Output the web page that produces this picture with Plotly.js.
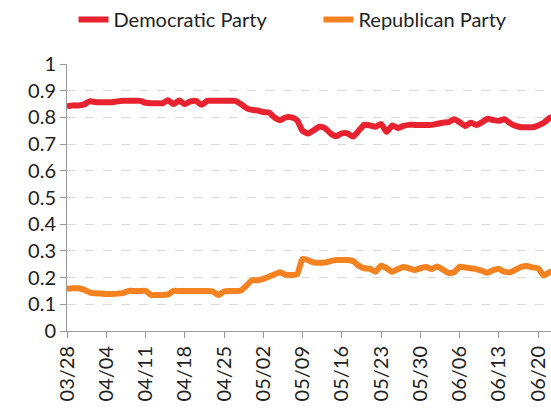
<!DOCTYPE html>
<html>
<head>
<meta charset="utf-8">
<script src="https://cdn.plot.ly/plotly-3.0.1.min.js"></script>
<style>html,body{margin:0;padding:0;background:#fff;}#chart{width:551px;height:414px;}</style>
</head>
<body>
<div id="chart"></div>
<script>
const startDate = "2020-03-28";
const seriesNames = ["Democratic Party", "Republican Party"];
const democratic = [
 0.842,0.845,0.845,0.848,0.860,0.858,0.857,0.857,0.857,0.860,
 0.862,0.862,0.862,0.862,0.855,
 0.853,0.853,0.853,0.864,0.850,0.863,0.850,0.860,0.862,0.847,
 0.862,0.862,0.862,0.862,0.862,0.862,
 0.850,0.835,0.828,0.826,0.820,0.818,0.800,0.790,0.800,0.800,
 0.790,0.750,0.740,0.752,0.765,0.760,0.740,0.730,0.740,0.740,
 0.728,0.750,0.772,0.770,0.765,0.775,0.746,0.770,0.760,0.768,
 0.772,0.772,0.772,0.772,0.772,0.776,0.780,
 0.782,0.793,0.782,0.768,0.780,0.772,0.782,0.795,0.790,0.787,
 0.793,0.778,0.768,0.763,0.763,0.763,0.770,0.780,
 0.797,0.805
];
const republican = [
 0.158,0.160,0.160,0.155,0.145,0.141,0.140,0.139,0.139,0.140,
 0.142,0.150,0.150,0.150,0.150,
 0.135,0.135,0.135,0.137,0.150,0.150,0.150,0.150,0.150,0.150,
 0.150,0.148,0.135,0.148,0.150,0.150,
 0.152,0.170,0.190,0.190,0.195,0.203,0.212,0.220,0.210,0.210,
 0.212,0.270,0.265,0.256,0.256,0.256,0.262,0.266,0.266,0.266,
 0.262,0.245,0.235,0.233,0.222,0.245,0.235,0.222,0.232,0.240,
 0.235,0.228,0.235,0.240,0.232,0.242,0.230,
 0.218,0.220,0.240,0.238,0.235,0.232,0.225,0.218,0.228,0.232,
 0.222,0.220,0.230,0.240,0.243,0.238,0.235,
 0.208,0.220,0.225
];
const colors = ["#e8232f", "#f58220"];
const legendIds = ["legend", "legend2"];

function dates(n) {
  const out = [];
  const d0 = new Date(startDate + "T00:00:00Z");
  for (let i = 0; i < n; i++) {
    const d = new Date(d0.getTime() + i * 86400000);
    out.push(d.toISOString().slice(0, 10));
  }
  return out;
}

const traces = [democratic, republican].map((ys, i) => ({
  type: "scatter", mode: "lines", name: seriesNames[i], x: dates(ys.length), y: ys,
  legend: legendIds[i],
  line: {color: colors[i], width: 6, shape: "spline", smoothing: 0.6}
}));

const fam = "Lato, 'Noto Sans', sans-serif";
const legendBase = {orientation: "h", xanchor: "left", y: 1.24, yanchor: "top",
  font: {family: fam, size: 20, color: "#222"}, bgcolor: "rgba(0,0,0,0)"};
const layout = {
  width: 551, height: 414,
  margin: {l: 67, r: 0, t: 64, b: 83},
  paper_bgcolor: "#fff", plot_bgcolor: "#fff",
  font: {family: fam, size: 20, color: "#222"},
  showlegend: true,
  legend: Object.assign({}, legendBase, {x: 0.0135}),
  legend2: Object.assign({}, legendBase, {x: 0.5195}),
  xaxis: {
    type: "date", range: ["2020-03-28", "2020-06-22 07:00"],
    tick0: "2020-03-28", dtick: 7 * 86400000, tickformat: "%m/%d", tickangle: -90,
    showgrid: false, showline: true, linecolor: "#999", linewidth: 1,
    ticks: "outside", ticklen: 6, tickcolor: "#999", zeroline: false,
    tickfont: {family: fam, size: 20, color: "#222"}
  },
  yaxis: {
    range: [0, 1], dtick: 0.1, tick0: 0,
    showgrid: true, gridcolor: "#dcdcdc", griddash: "dash", gridwidth: 1,
    showline: true, linecolor: "#999", linewidth: 1,
    ticks: "outside", ticklen: 6, tickcolor: "#999", zeroline: false,
    tickfont: {family: fam, size: 20, color: "#222"}
  }
};
Plotly.newPlot("chart", traces, layout, {displayModeBar: false, staticPlot: true});
</script>
</body>
</html>
